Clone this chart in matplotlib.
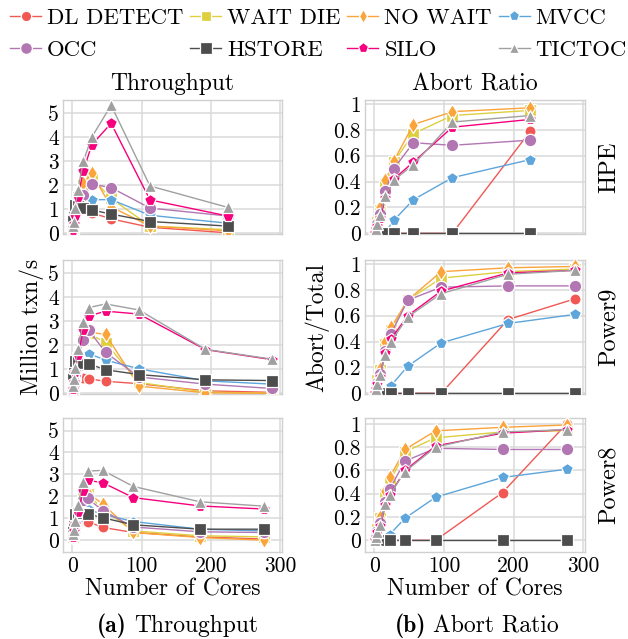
import matplotlib
matplotlib.use("Agg")
import matplotlib.pyplot as plt
from matplotlib.lines import Line2D

plt.rcParams['font.family'] = ['cmr10', 'DejaVu Serif']
plt.rcParams['mathtext.fontset'] = 'cm'
plt.rcParams['axes.unicode_minus'] = False
plt.rcParams['axes.formatter.use_mathtext'] = True

# ---------------- data ----------------
series = ["DL DETECT", "WAIT DIE", "NO WAIT", "MVCC", "OCC", "HSTORE", "SILO", "TICTOC"]

hpe_cores = [1, 2, 4, 8, 16, 28, 56, 112, 224]
p9_cores = [1, 2, 4, 8, 16, 24, 48, 96, 192, 288]
p8_cores = [1, 2, 4, 8, 16, 22, 44, 88, 184, 276]

# throughput (million txn/s)
hpe_tput_dl = [0.15, 0.35, 0.7, 1.0, 1.0, 0.85, 0.6, 0.25, 0.02]
hpe_tput_wd = [0.2, 0.45, 0.85, 1.5, 2.0, 2.3, 1.45, 0.3, 0.15]
hpe_tput_nw = [0.2, 0.45, 0.9, 1.6, 2.1, 2.5, 1.1, 0.3, 0.1]
hpe_tput_mvcc = [0.15, 0.35, 0.7, 1.1, 1.5, 1.4, 1.4, 0.75, 0.42]
hpe_tput_occ = [0.2, 0.45, 0.9, 1.5, 1.6, 2.05, 1.9, 1.05, 0.72]
hpe_tput_hs = [0.72, 1.0, 1.18, 1.15, 1.04, 0.97, 0.8, 0.49, 0.3]
hpe_tput_silo = [0.15, 0.4, 0.72, 1.53, 2.6, 3.68, 4.58, 1.39, 0.72]
hpe_tput_tt = [0.3, 0.49, 1.04, 1.8, 3.0, 4.0, 5.33, 1.97, 1.08]

p9_tput_dl = [0.12, 0.3, 0.55, 0.7, 0.65, 0.6, 0.5, 0.4, 0.1, 0.04]
p9_tput_wd = [0.15, 0.4, 0.78, 1.45, 2.2, 2.5, 2.1, 0.45, 0.05, 0.0]
p9_tput_nw = [0.15, 0.4, 0.8, 1.5, 2.3, 2.55, 2.45, 0.3, 0.02, 0.0]
p9_tput_mvcc = [0.12, 0.3, 0.6, 1.0, 1.5, 1.65, 1.38, 1.02, 0.52, 0.38]
p9_tput_occ = [0.15, 0.4, 0.8, 1.45, 2.23, 2.62, 1.7, 0.68, 0.38, 0.2]
p9_tput_hs = [0.8, 1.1, 1.35, 1.3, 1.25, 1.22, 0.98, 0.78, 0.56, 0.53]
p9_tput_silo = [0.18, 0.45, 0.88, 1.6, 2.62, 3.22, 3.42, 3.3, 1.82, 1.4]
p9_tput_tt = [0.3, 0.6, 1.05, 1.85, 2.97, 3.57, 3.72, 3.47, 1.83, 1.42]

p8_tput_dl = [0.12, 0.28, 0.5, 0.8, 0.9, 0.85, 0.58, 0.35, 0.15, 0.05]
p8_tput_wd = [0.15, 0.35, 0.7, 1.2, 1.95, 2.1, 1.4, 0.42, 0.2, 0.15]
p8_tput_nw = [0.15, 0.35, 0.7, 1.25, 2.0, 2.15, 1.65, 0.35, 0.12, 0.0]
p8_tput_mvcc = [0.12, 0.3, 0.55, 0.9, 1.3, 1.4, 1.18, 0.85, 0.5, 0.42]
p8_tput_occ = [0.15, 0.35, 0.7, 1.2, 1.85, 1.9, 1.35, 0.6, 0.38, 0.35]
p8_tput_hs = [0.65, 0.9, 1.2, 1.25, 1.22, 1.2, 1.02, 0.7, 0.5, 0.5]
p8_tput_silo = [0.15, 0.4, 0.73, 1.3, 2.24, 2.73, 2.62, 1.94, 1.56, 1.42]
p8_tput_tt = [0.27, 0.45, 0.88, 1.6, 2.67, 3.15, 3.18, 2.45, 1.75, 1.55]

# abort ratio (abort / total)
hpe_abort_dl = [0, 0, 0, 0, 0, 0, 0, 0, 0.79]
hpe_abort_wd = [0, 0.04, 0.09, 0.18, 0.38, 0.55, 0.77, 0.91, 0.95]
hpe_abort_nw = [0, 0.05, 0.1, 0.2, 0.41, 0.56, 0.84, 0.94, 0.97]
hpe_abort_mvcc = [0, 0, 0, 0, 0.01, 0.1, 0.26, 0.43, 0.57]
hpe_abort_occ = [0, 0.03, 0.07, 0.15, 0.33, 0.5, 0.7, 0.68, 0.72]
hpe_abort_hs = [0, 0, 0, 0, 0, 0, 0, 0, 0]
hpe_abort_silo = [0, 0.03, 0.06, 0.12, 0.27, 0.42, 0.55, 0.82, 0.88]
hpe_abort_tt = [0, 0.03, 0.07, 0.14, 0.29, 0.41, 0.53, 0.86, 0.91]

p9_abort_dl = [0, 0, 0, 0, 0, 0, 0, 0, 0.57, 0.73]
p9_abort_wd = [0, 0.05, 0.1, 0.18, 0.38, 0.49, 0.72, 0.89, 0.94, 0.96]
p9_abort_nw = [0, 0.05, 0.1, 0.19, 0.4, 0.51, 0.72, 0.94, 0.97, 0.98]
p9_abort_mvcc = [0, 0, 0, 0, 0.01, 0.06, 0.21, 0.39, 0.54, 0.61]
p9_abort_occ = [0, 0.04, 0.08, 0.15, 0.33, 0.46, 0.72, 0.82, 0.83, 0.83]
p9_abort_hs = [0, 0, 0, 0, 0, 0, 0, 0, 0, 0]
p9_abort_silo = [0, 0.03, 0.07, 0.13, 0.31, 0.42, 0.6, 0.79, 0.93, 0.95]
p9_abort_tt = [0, 0.03, 0.07, 0.14, 0.3, 0.4, 0.59, 0.77, 0.92, 0.95]

p8_abort_dl = [0, 0, 0, 0, 0, 0, 0, 0, 0.41, 1.0]
p8_abort_wd = [0, 0.05, 0.1, 0.19, 0.4, 0.5, 0.76, 0.88, 0.93, 0.94]
p8_abort_nw = [0, 0.05, 0.1, 0.2, 0.42, 0.54, 0.78, 0.94, 0.97, 0.99]
p8_abort_mvcc = [0, 0, 0, 0, 0.01, 0.05, 0.19, 0.37, 0.54, 0.61]
p8_abort_occ = [0, 0.04, 0.08, 0.15, 0.33, 0.44, 0.68, 0.79, 0.78, 0.78]
p8_abort_hs = [0, 0, 0, 0, 0, 0, 0, 0, 0, 0]
p8_abort_silo = [0, 0.03, 0.07, 0.12, 0.3, 0.39, 0.6, 0.81, 0.92, 0.95]
p8_abort_tt = [0, 0.03, 0.07, 0.13, 0.31, 0.39, 0.59, 0.8, 0.93, 0.95]

platforms = ["HPE", "Power9", "Power8"]
x_ticks = [0, 100, 200, 300]
tput_ticks = [0, 1, 2, 3, 4, 5]
abort_ticks = [0, 0.2, 0.4, 0.6, 0.8, 1.0]
abort_tick_labels = ["0", "0.2", "0.4", "0.6", "0.8", "1"]

# ---------------- style ----------------
colors = {"DL DETECT": "#F15854", "WAIT DIE": "#DECF3F", "NO WAIT": "#FAA43A",
          "MVCC": "#5DA5DA", "OCC": "#B276B2", "HSTORE": "#4D4D4D",
          "SILO": "#F7007D", "TICTOC": "#A0A0A0"}
markers = {"DL DETECT": "o", "WAIT DIE": "s", "NO WAIT": "d", "MVCC": "p",
           "OCC": "o", "HSTORE": "s", "SILO": "p", "TICTOC": "^"}
msizes = {"DL DETECT": 8, "WAIT DIE": 8, "NO WAIT": 8, "MVCC": 8.5,
          "OCC": 9, "HSTORE": 8.5, "SILO": 8.5, "TICTOC": 8}

tput_data = [
    (hpe_cores, [hpe_tput_dl, hpe_tput_wd, hpe_tput_nw, hpe_tput_mvcc, hpe_tput_occ, hpe_tput_hs, hpe_tput_silo, hpe_tput_tt]),
    (p9_cores, [p9_tput_dl, p9_tput_wd, p9_tput_nw, p9_tput_mvcc, p9_tput_occ, p9_tput_hs, p9_tput_silo, p9_tput_tt]),
    (p8_cores, [p8_tput_dl, p8_tput_wd, p8_tput_nw, p8_tput_mvcc, p8_tput_occ, p8_tput_hs, p8_tput_silo, p8_tput_tt]),
]
abort_data = [
    (hpe_cores, [hpe_abort_dl, hpe_abort_wd, hpe_abort_nw, hpe_abort_mvcc, hpe_abort_occ, hpe_abort_hs, hpe_abort_silo, hpe_abort_tt]),
    (p9_cores, [p9_abort_dl, p9_abort_wd, p9_abort_nw, p9_abort_mvcc, p9_abort_occ, p9_abort_hs, p9_abort_silo, p9_abort_tt]),
    (p8_cores, [p8_abort_dl, p8_abort_wd, p8_abort_nw, p8_abort_mvcc, p8_abort_occ, p8_abort_hs, p8_abort_silo, p8_abort_tt]),
]

W, H = 628, 639
fig = plt.figure(figsize=(W / 100, H / 100), dpi=100)


def frac_box(x0, y0, x1, y1):
    return [x0 / W, 1 - y1 / H, (x1 - x0) / W, (y1 - y0) / H]


rows_px = [(100, 234), (260, 394), (418, 552)]
left_x = (63, 282)
right_x = (365, 585)
tput_ylims = [(-0.03, 5.55), (-0.03, 5.55), (-0.54, 5.57)]
abort_ylims = [(-0.005, 1.03), (-0.005, 1.03), (-0.1, 1.05)]
XLIM = (-13.4, 302.4)
TICK_FS = 15.5
LABEL_FS = 17
ROW_FS = 17.5
LEGEND_FS = 16.4


def style_axes(ax):
    ax.set_facecolor("white")
    ax.grid(True, color="#DADADA", linewidth=1.1, zorder=0)
    ax.set_axisbelow(True)
    for s in ax.spines.values():
        s.set_color("#D0D0D0")
        s.set_linewidth(1.0)
    ax.tick_params(length=0, labelsize=TICK_FS, pad=3)
    ax.set_xlim(*XLIM)
    ax.set_xticks(x_ticks)


def draw(ax, xs, ys_list):
    for name, ys in zip(series, ys_list):
        ax.plot(xs, ys, color=colors[name], lw=1.0, marker=markers[name],
                ms=msizes[name], mfc=colors[name], mec="white", mew=0.9,
                zorder=3)


for r in range(3):
    y0, y1 = rows_px[r]
    axl = fig.add_axes(frac_box(left_x[0], y0, left_x[1], y1))
    style_axes(axl)
    draw(axl, *tput_data[r])
    axl.set_ylim(*tput_ylims[r])
    axl.set_yticks(tput_ticks)
    axl.set_yticklabels([str(t) for t in tput_ticks])

    axr = fig.add_axes(frac_box(right_x[0], y0, right_x[1], y1))
    style_axes(axr)
    draw(axr, *abort_data[r])
    axr.set_ylim(*abort_ylims[r])
    axr.set_yticks(abort_ticks)
    axr.set_yticklabels(abort_tick_labels)

    if r < 2:
        axl.set_xticklabels([])
        axr.set_xticklabels([])
    else:
        axl.set_xticklabels([str(t) for t in x_ticks])
        axr.set_xticklabels([str(t) for t in x_ticks])
        axl.set_xlabel("Number of Cores", fontsize=LABEL_FS, labelpad=2)
        axr.set_xlabel("Number of Cores", fontsize=LABEL_FS, labelpad=2)

    if r == 0:
        axl.set_title("Throughput", fontsize=LABEL_FS, pad=7)
        axr.set_title("Abort Ratio", fontsize=LABEL_FS, pad=7)
    if r == 1:
        axl.set_ylabel("Million txn/s", fontsize=LABEL_FS, labelpad=3)
        axr.set_ylabel("Abort/Total", fontsize=LABEL_FS, labelpad=3)

    fig.text(609 / W, 1 - ((y0 + y1) / 2) / H, platforms[r], rotation=90,
             ha="center", va="center", fontsize=ROW_FS)

# captions
cap_y = 1 - 626 / H
fig.text(127 / W, cap_y, "(a)", fontsize=LABEL_FS, family="cmb10",
         ha="right", va="center")
fig.text(134 / W, cap_y, "Throughput", fontsize=LABEL_FS, ha="left", va="center")
fig.text(426 / W, cap_y, "(b)", fontsize=LABEL_FS, family="cmb10",
         ha="right", va="center")
fig.text(433 / W, cap_y, "Abort Ratio", fontsize=LABEL_FS, ha="left", va="center")

# legend (row-wise ordering in a 4-column layout)
handles = {name: Line2D([0], [0], color=colors[name], lw=1.0, marker=markers[name],
                        ms=msizes[name] - 0.5, mfc=colors[name], mec="white", mew=0.9)
           for name in series}
order = ["DL DETECT", "OCC", "WAIT DIE", "HSTORE", "NO WAIT", "SILO", "MVCC", "TICTOC"]
fig.legend([handles[n] for n in order], order, loc="upper center",
           bbox_to_anchor=(0.507, 0.996), ncol=4, frameon=False, fontsize=LEGEND_FS,
           handlelength=1.36, handletextpad=0.26, columnspacing=0.3,
           labelspacing=0.5, borderaxespad=0.0, borderpad=0.25)

fig.savefig("out.png", dpi=100)
